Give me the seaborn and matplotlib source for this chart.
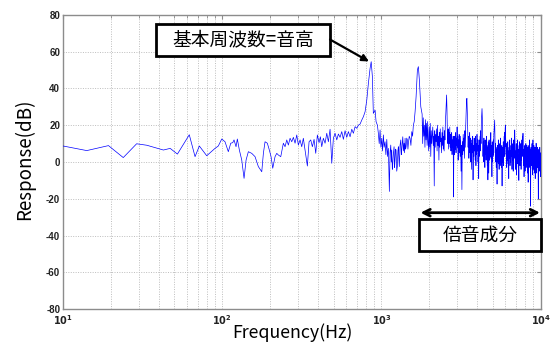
import numpy as np
import pandas as pd
import matplotlib
matplotlib.use("Agg")
import matplotlib.pyplot as plt
import seaborn as sns
from matplotlib.patches import Rectangle
from matplotlib.ticker import LogLocator, NullFormatter

# ---------------- data ----------------
freq_low = [10, 14.1, 19.3, 23.9, 29.0, 33.6, 42.7, 47.1, 52.3, 62.1,
            67.5, 71.8, 79.9, 90.1, 94.5, 99.3, 104.1, 109.2, 113.1, 116.4,
            118.6, 122.1, 124.4, 128.1, 132.6, 137.1, 141.2, 145.9, 153.2, 160.7,
            168.6, 177.1, 181.3, 185.7, 192.0, 197.6, 202.6, 207.6, 214.6, 220.0,
            225.1, 233.1, 242.0]
resp_low = [8.7, 6.2, 8.9, 2.4, 9.9, 9.1, 6.5, 7.4, 4.3, 14.8,
            2.9, 8.7, 3.4, 7.4, 8.7, 12.5, 11.0, 5.6, 10.2, 10.5,
            12.0, 8.3, 12.5, 6.5, 1.1, -8.9, 1.1, 5.6, 4.7, 2.9,
            -2.5, -5.3, 4.7, 11.0, 10.2, 6.5, 2.9, -3.4, 2.9, 4.7,
            3.8, 2.9, 10.2]

freq_mid = [248.0, 254.2, 260.2, 266.7, 273.3, 279.7, 286.7, 293.8, 300.6, 308.1,
            315.8, 323.1, 331.3, 342.5, 351.0, 359.7, 368.1, 377.3, 386.6, 395.7,
            405.5, 413.3, 421.7, 431.5, 442.4, 453.4, 464.1, 475.6, 487.4, 498.8,
            511.2, 524.0, 536.3, 549.5, 563.2, 576.5, 590.8, 605.5, 619.8, 635.2,
            651.0, 666.3, 682.9, 699.9, 716.2, 734.1, 752.4, 769.9, 789.1, 808.8,
            827.7, 848.3, 862.0, 877.0, 889.0, 912.0]
resp_mid = [8.3, 12.0, 9.2, 12.9, 11.0, 13.4, 10.2, 14.7, 9.2, 12.0,
            8.3, 12.9, 6.5, -2.2, 11.0, 12.0, 8.3, 12.3, 4.7, 14.7,
            10.5, 13.7, 8.3, 12.9, 10.2, 15.6, 11.0, 17.8, -0.7, 12.9,
            15.6, 12.0, 15.2, 13.4, 16.5, 12.3, 17.0, 13.4, 16.5, 13.7,
            17.8, 15.6, 19.2, 18.3, 20.0, 20.6, 22.8, 24.6, 27.3, 33.7,
            42.7, 50.9, 54.5, 46.3, 26.4, 28.2]

freq_h2 = [925, 943, 956, 968, 980, 992, 1004, 1016, 1028, 1040,
           1053, 1066, 1080, 1092, 1105, 1121, 1132, 1144, 1152, 1160,
           1170, 1178, 1189, 1200, 1208, 1217, 1226, 1235, 1247, 1258,
           1268, 1277, 1286, 1295, 1308, 1322, 1332, 1341, 1351, 1361,
           1374, 1387, 1397, 1407, 1418, 1428, 1441, 1455, 1466, 1476,
           1494, 1512, 1531, 1550, 1568, 1586, 1606, 1626, 1650, 1681,
           1705, 1730, 1766]
resp_h2 = [21.9, 20.0, 15.6, 10.0, 17.4, 8.0, 12.9, 6.0, 14.7, 8.0,
           11.0, 4.0, 12.3, 3.0, 7.4, -16.0, 5.0, 9.2, 0.0, 6.5,
           -4.0, -0.7, 5.0, 8.3, -3.0, 1.1, 7.0, 6.5, -5.0, -2.5,
           6.0, 8.3, 2.0, -2.5, 9.0, 12.0, 4.0, 6.5, 10.0, 13.7,
           6.0, 10.2, 5.0, 12.9, 7.0, 8.3, 13.0, 12.0, 7.0, 10.2,
           14.0, 12.9, 9.0, 16.5, 14.0, 20.0, 22.0, 27.3, 35.5, 50.0,
           51.8, 44.5, 30.0]

freq_h3 = [1800, 1815, 1830, 1845, 1860, 1875, 1890, 1905, 1920, 1935,
           1950, 1965, 1980, 1995, 2010, 2025, 2040, 2055, 2070, 2085,
           2100, 2115, 2130, 2145, 2160, 2175, 2190, 2205, 2220, 2235,
           2250, 2265, 2280, 2295, 2310, 2325, 2340, 2355, 2370, 2385,
           2400, 2415, 2430, 2445, 2460, 2475, 2490, 2505, 2520, 2535,
           2550, 2565, 2580, 2595, 2610, 2625, 2640, 2655, 2670, 2685,
           2700, 2715, 2730, 2745, 2760, 2775, 2790, 2805, 2820, 2835,
           2850, 2865, 2880, 2895, 2910, 2925, 2940, 2955, 2970, 2985,
           3000, 3015, 3030, 3045, 3060, 3075, 3090]
resp_h3 = [26, 10, 24, 14, 20, 8, 23, 12, 21, 9,
           22, 11, 6, 19, 8, 21, 3, 17, 10, 15,
           19, 9, 14, -13, 17, 8, 15, 11, 18, 6,
           20, 9, 14, 1, 16, 8, 18, 11, 13, 5,
           16, 9, 19, 7, 14, 6, 17, 12, 22, 26,
           32, 36.4, 28, 14, 10, 18, 7, 16, 10, 19,
           8, 15, 6, 13, 16, 4, 12, 8, 14, -19,
           10, 14, 4, 12, 7, 16, 5, 13, 9, 19,
           8, 14, 1, 12, 6, 15, 5]

freq_h4 = [3100, 3120, 3140, 3160, 3180, 3200, 3220, 3240, 3260, 3280,
           3300, 3320, 3340, 3360, 3380, 3400, 3420, 3440, 3460, 3480,
           3500, 3520, 3540, 3560, 3580, 3600, 3620, 3640, 3660, 3680,
           3700, 3720, 3740, 3760, 3780, 3800, 3820, 3840, 3860, 3880,
           3900, 3920, 3940, 3960, 3980, 4000, 4020, 4040, 4060, 4080,
           4100, 4120, 4140, 4160, 4180, 4200, 4220, 4240, 4260, 4280,
           4300, 4320, 4340, 4360, 4380, 4400, 4420, 4440, 4460, 4480,
           4500, 4520, 4540, 4560, 4580, 4600, 4620, 4640, 4660, 4680,
           4700, 4720, 4740, 4760, 4780, 4800, 4820, 4840, 4860, 4880,
           4900, 4920, 4940, 4960, 4980, 5000, 5020, 5040, 5060, 5080,
           5100, 5120, 5140, 5160, 5180, 5200, 5220, 5240, 5260, 5280,
           5300, 5320, 5340, 5360, 5380, 5400, 5420, 5440, 5460, 5480,
           5500, 5520, 5540, 5560, 5580, 5600, 5620, 5640, 5660, 5680,
           5700, 5720, 5740, 5760, 5780, 5800, 5820, 5840, 5860, 5880,
           5900, 5920, 5940, 5960, 5980]
resp_h4 = [12, 3, 14, -5, 9, -15, 11, 4, 15, 6,
           13, 2, 17, 8, 19, 26, 33, 34.6, 27, 16,
           8, 14, 2, 11, 16, 5, 13, 0, 10, -4,
           12, 5, 14, -9.7, 9, 3, 13, 6, 11, 1,
           14, -2, 10, 4, 15, 6, 12, 0, 9, -9,
           12, 3, 8, 14, 6, 17, 10, 22, 26, 29,
           24, 12, 3, 11, 0, 13, 6, 9, -3, 12,
           4, 10, 1, 14, 5, 9, -2, 8, -9.7, 11,
           3, -6, 12, 5, 1, 10, 3, 8, 16, 2,
           9, 5, -8, 11, 0, 7, 3, 12, 4, 15,
           18, 20, 22.8, 14, 5, 10, 0, 8, -3, 7,
           2, -12, 9, 0, 6, 3, 12, -1, 9, -4,
           6, 1, 10, -2, 8, 13, 2, 7, -3, 4,
           9, -13, 8, 0, 5, 1, 11, -2, 7, 5,
           14, 3, 16, 8, 18]

freq_h5 = [6000, 6030, 6060, 6090, 6120, 6150, 6180, 6210, 6240, 6270,
           6300, 6330, 6360, 6390, 6420, 6450, 6480, 6510, 6540, 6570,
           6600, 6630, 6660, 6690, 6720, 6750, 6780, 6810, 6840, 6870,
           6900, 6930, 6960, 6990, 7020, 7050, 7080, 7110, 7140, 7170,
           7200, 7230, 7260, 7290, 7320, 7350, 7380, 7410, 7440, 7470,
           7500, 7530, 7560, 7590, 7620, 7650, 7680, 7710, 7740, 7770,
           7800, 7830, 7860, 7890, 7920, 7950, 7980, 8010, 8040, 8070,
           8100, 8130, 8160, 8190, 8220, 8250, 8280, 8310, 8340, 8370,
           8400, 8430, 8460, 8490, 8520, 8550, 8580, 8610, 8640, 8670,
           8700, 8730, 8760, 8790, 8820, 8850, 8880, 8910, 8940, 8970,
           9000, 9030, 9060, 9090, 9120, 9150, 9180, 9210, 9240, 9270,
           9300, 9330, 9360, 9390, 9420, 9450, 9480, 9510, 9540, 9570,
           9600, 9630, 9660, 9690, 9720, 9750, 9780, 9810, 9840, 9870,
           9900, 9930, 9960, 9990, 10000]
resp_h5 = [20, 13, 4, 10, -3, 7, 1, 11, -1, 6,
           -9, 8, 2, 12, -2, 6, 0, 9, 3, 13,
           -4, 7, 1, 10, -5, 8, 12, 2, 15, 17.4,
           9, -4, 6, 0, 10, -7, 5, 1, 12, -1,
           7, -3, 4, -10, 9, 2, 11, -2, 6, 0,
           10, -4, 8, 1, 12, 3, 14, 8, 15.6, 6,
           -2, 7, -8, 5, 0, 9, -5, 6, 1, 10,
           -3, 7, -1, 9, 0, 5, -6, 8, -11, 4,
           2, 9, -3, 6, 12, 0, 7, -5, -24, 4,
           8, -2, 6, 1, 10, -4, 5, -7, 12, 0,
           7, -4, 9, 1, -6, 6, 0, 8, -9, 3,
           6, -2, 10.2, 2, -6, 7, 0, 5, -3, 8,
           1, -4, -20, 6, 0, 7, -5, 4, -1, 8,
           -3, 5, -8, 2, 3]

y_ticks = [-80, -60, -40, -20, 0, 20, 40, 60, 80]
y_tick_labels = ["-80", "-60", "-40", "-20", "0", "20", "40", "60", "80"]
x_ticks = [10, 100, 1000, 10000]
x_tick_labels = [r"$\mathbf{10^{1}}$", r"$\mathbf{10^{2}}$", r"$\mathbf{10^{3}}$", r"$\mathbf{10^{4}}$"]
x_label = "Frequency(Hz)"
y_label = "Response(dB)"
note_fundamental = "基本周波数=音高"
note_harmonics = "倍音成分"

# ---------------- figure ----------------
sns.set_theme(style="white")
plt.rcParams['font.family'] = ['Noto Sans CJK JP', 'DejaVu Sans']
plt.rcParams['mathtext.fontset'] = 'dejavusans'

df = pd.DataFrame({
    "freq": freq_low + freq_mid + freq_h2 + freq_h3 + freq_h4 + freq_h5,
    "resp": resp_low + resp_mid + resp_h2 + resp_h3 + resp_h4 + resp_h5,
})

W, H = 550, 345
L, R, T, B = 63, 540.7, 14.7, 309.3
fig = plt.figure(figsize=(W / 100, H / 100), dpi=100)
ax = fig.add_axes([L / W, 1 - B / H, (R - L) / W, (B - T) / H])
ax.set_xscale("log")

sns.lineplot(data=df, x="freq", y="resp", ax=ax, estimator=None, sort=False,
             color="#0000FF", linewidth=0.5, zorder=3)

ax.set_xlim(10, 10000)
ax.set_ylim(-80, 80)
ax.set_yticks(y_ticks)
ax.set_yticklabels(y_tick_labels)
ax.set_xticks(x_ticks)
ax.set_xticklabels(x_tick_labels)
ax.xaxis.set_minor_locator(LogLocator(base=10, subs=range(2, 10)))
ax.xaxis.set_minor_formatter(NullFormatter())

grid_kw = dict(linestyle=(0, (1, 1.5)), color="#BDBDBD", linewidth=0.7)
ax.grid(True, which="major", axis="both", **grid_kw)
ax.grid(True, which="minor", axis="x", **grid_kw)
ax.set_axisbelow(True)

for s in ax.spines.values():
    s.set_color("#8C8C8C")
    s.set_linewidth(1.0)

ax.tick_params(axis="both", which="major", direction="in", length=3, width=0.8,
               color="#8C8C8C", labelsize=7, labelcolor="#222222", pad=2,
               top=True, right=True)
ax.tick_params(axis="x", which="major", pad=3)
ax.tick_params(axis="x", which="minor", direction="in", length=2, width=0.6,
               color="#8C8C8C", top=True)
for lbl in ax.get_yticklabels():
    lbl.set_fontfamily(["Liberation Sans", "DejaVu Sans"])
    lbl.set_fontweight("bold")

ax.set_xlabel(x_label, fontsize=12.8, color="black")
ax.set_ylabel(y_label, fontsize=13.5, color="black")
ax.xaxis.label.set_va("baseline")
ax.xaxis.set_label_coords((292 - L) / (R - L), (B - 338) / (B - T))
ax.yaxis.label.set_va("center")
ax.yaxis.set_label_coords((25 - L) / (R - L), 0.51)

def px2ax(x, y):
    return ((x - L) / (R - L), (B - y) / (B - T))

# box 1: fundamental
x0, y0 = px2ax(156, 56)
x1, y1 = px2ax(330, 24)
ax.add_patch(Rectangle((x0, y0), x1 - x0, y1 - y0, transform=ax.transAxes,
                       facecolor="white", edgecolor="black", linewidth=2,
                       zorder=6, clip_on=False))
ax.text((x0 + x1) / 2, (y0 + y1) / 2, note_fundamental, transform=ax.transAxes,
        ha="center", va="center", fontsize=13.5, color="black", zorder=7)
ax.annotate("", xy=px2ax(369, 61.5), xytext=px2ax(330, 39.5),
            xycoords="axes fraction", textcoords="axes fraction",
            arrowprops=dict(arrowstyle="-|>", color="black", lw=1.6,
                            mutation_scale=10, shrinkA=0, shrinkB=0),
            zorder=7)

# box 2: harmonics
x0, y0 = px2ax(419.3, 251)
x1, y1 = px2ax(540.7, 219.3)
ax.add_patch(Rectangle((x0, y0), x1 - x0, y1 - y0, transform=ax.transAxes,
                       facecolor="white", edgecolor="black", linewidth=2,
                       zorder=6, clip_on=False))
ax.text((x0 + x1) / 2, (y0 + y1) / 2, note_harmonics, transform=ax.transAxes,
        ha="center", va="center", fontsize=13.5, color="black", zorder=7)
ax.annotate("", xy=px2ax(540, 212.7), xytext=px2ax(420.5, 212.7),
            xycoords="axes fraction", textcoords="axes fraction",
            arrowprops=dict(arrowstyle="<->", color="black", lw=2,
                            mutation_scale=12, shrinkA=0, shrinkB=0),
            zorder=7)

fig.savefig("out.png", dpi=100)
